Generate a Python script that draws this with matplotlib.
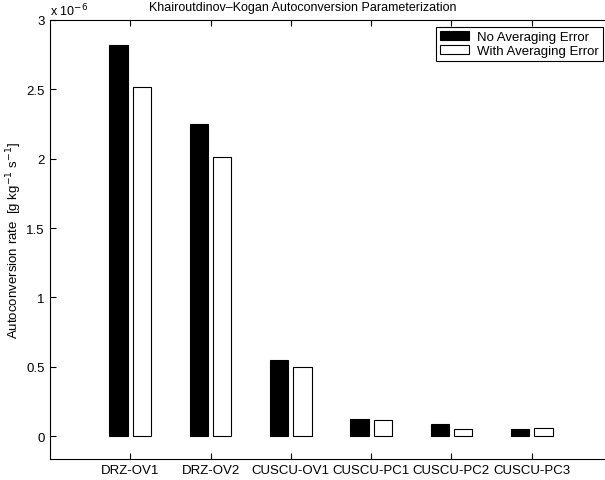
import matplotlib.pyplot as plt
import numpy as np

plt.rcParams["font.family"] = ["Liberation Sans", "DejaVu Sans"]

cases = ["DRZ-OV1", "DRZ-OV2", "CUSCU-OV1", "CUSCU-PC1", "CUSCU-PC2", "CUSCU-PC3"]
# autoconversion rate, units of 1e-6 g kg^-1 s^-1
no_avg_error = [2.82, 2.25, 0.55, 0.12, 0.085, 0.05]
with_avg_error = [2.52, 2.01, 0.495, 0.115, 0.05, 0.055]
yticks = [0, 0.5, 1, 1.5, 2, 2.5, 3]

fig = plt.figure(figsize=(6.05, 4.81), dpi=100)
ax = fig.add_axes([50 / 605, 1 - 460 / 481, 562 / 605, 439 / 481])

x = np.arange(1, len(cases) + 1)
w = 0.23
ax.bar(x - 0.145, no_avg_error, w, color="black", edgecolor="black",
       linewidth=0.8, label="No Averaging Error")
ax.bar(x + 0.145, with_avg_error, w, color="white", edgecolor="black",
       linewidth=0.8, label="With Averaging Error")

ax.set_xlim(0, 7)
ax.set_ylim(-0.165, 3)
ax.set_xticks(x)
ax.set_xticklabels(cases, fontsize=9.5)
ax.set_yticks(yticks)
ax.set_yticklabels([f"{t:g}" for t in yticks], fontsize=9.5)
ax.tick_params(direction="in", top=True, right=True, length=4, width=0.8)
ax.tick_params(axis="y", pad=4)
for s in ax.spines.values():
    s.set_linewidth(0.8)

ax.set_ylabel("Autoconversion rate  [g kg$^{-1}$ s$^{-1}$]", fontsize=9.5, labelpad=1.5)
ax.text(0.0, 1.005, "x 10$^{-6}$", transform=ax.transAxes, fontsize=9,
        ha="left", va="bottom")
fig.text(0.5, 1 - 8 / 481, "Khairoutdinov\u2013Kogan Autoconversion Parameterization",
         ha="center", va="center", fontsize=9)

leg = ax.legend(loc="upper right", bbox_to_anchor=(603 / 605, 1 - 28 / 481),
                bbox_transform=fig.transFigure, fontsize=9.5, fancybox=False,
                edgecolor="black", framealpha=1, borderpad=0.3,
                labelspacing=0.1, handlelength=2.2, handletextpad=0.6,
                borderaxespad=0)
leg.get_frame().set_linewidth(0.8)

fig.savefig("out.png", dpi=100)
